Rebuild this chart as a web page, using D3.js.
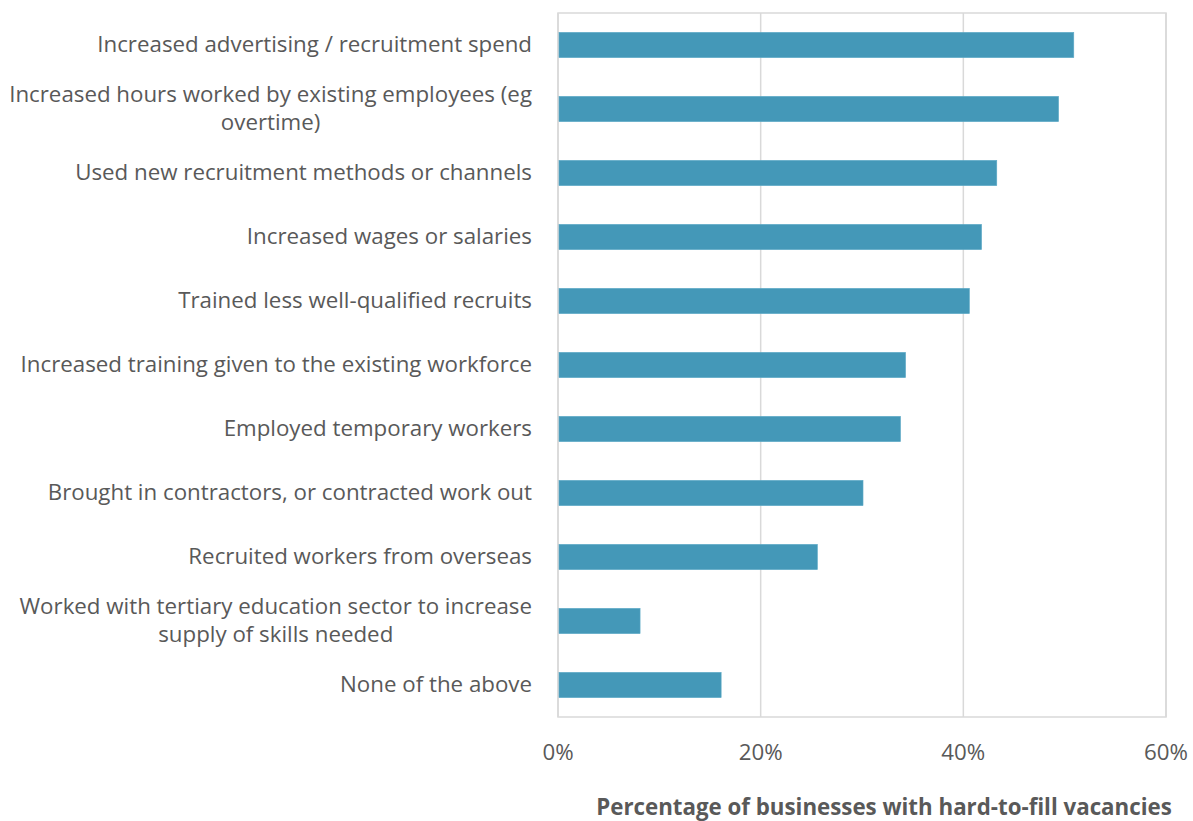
<!DOCTYPE html>
<html>
<head>
<meta charset="utf-8">
<script src="https://cdn.jsdelivr.net/npm/d3@7"></script>
<style>
  html, body { margin: 0; padding: 0; background: #fff; }
  svg { display: block; }
  text { font-family: "Open Sans", "Liberation Sans", sans-serif; }
</style>
</head>
<body>
<svg id="chart" width="1193" height="821"></svg>
<script>
// Responses to hard-to-fill vacancies (share of businesses)
const categories = [
  ["Increased advertising / recruitment spend"],
  ["Increased hours worked by existing employees (eg", "overtime)"],
  ["Used new recruitment methods or channels"],
  ["Increased wages or salaries"],
  ["Trained less well-qualified recruits"],
  ["Increased training given to the existing workforce"],
  ["Employed temporary workers"],
  ["Brought in contractors, or contracted work out"],
  ["Recruited workers from overseas"],
  ["Worked with tertiary education sector to increase", "supply of skills needed"],
  ["None of the above"]
];
const values = [0.509, 0.494, 0.433, 0.418, 0.406, 0.343, 0.338, 0.301, 0.256, 0.081, 0.161];
const xTicks = [0, 0.2, 0.4, 0.6];
const xTitle = "Percentage of businesses with hard-to-fill vacancies";

const svg = d3.select("#chart");
const plotL = 558, plotR = 1166, plotT = 13, plotB = 717;
const fs = 22.3;
const textCol = "#595959";

const x = d3.scaleLinear().domain([0, 0.6]).range([plotL, plotR]);
const y = d3.scaleBand()
  .domain(d3.range(categories.length))
  .range([plotT, plotB])
  .paddingInner(0.605)
  .paddingOuter(0.3025);

const grid = "#d9d9d9";

// vertical gridlines
svg.append("g")
  .selectAll("line")
  .data(xTicks)
  .join("line")
  .attr("x1", d => x(d)).attr("x2", d => x(d))
  .attr("y1", plotT).attr("y2", plotB)
  .attr("stroke", grid).attr("stroke-width", 1.5);

// plot frame
svg.append("rect")
  .attr("x", plotL).attr("y", plotT)
  .attr("width", plotR - plotL).attr("height", plotB - plotT)
  .attr("fill", "none").attr("stroke", grid).attr("stroke-width", 1.5);

// bars
svg.append("g")
  .selectAll("rect")
  .data(values)
  .join("rect")
  .attr("x", x(0) + 1)
  .attr("y", (d, i) => y(i))
  .attr("width", d => x(d) - x(0) - 1)
  .attr("height", y.bandwidth())
  .attr("fill", "#4498b8")
  .attr("stroke", "#5eaac6")
  .attr("stroke-width", 0.6);

// category labels, right-aligned; wrapped second lines centred under the first
const labelX = 532;
const lineH = 28;
const baseOff = 0.36 * fs;
const lab = svg.append("g")
  .selectAll("text")
  .data(categories)
  .join("text")
  .attr("text-anchor", "end")
  .attr("fill", textCol)
  .attr("font-size", fs)
  .attr("x", labelX)
  .attr("y", (d, i) => y(i) + y.bandwidth() / 2 + baseOff - (d.length - 1) * lineH / 2 - 1);
lab.selectAll("tspan")
  .data(d => d)
  .join("tspan")
  .attr("x", labelX)
  .attr("dy", (d, j) => j === 0 ? 0 : lineH)
  .text(d => d);

lab.each(function () {
  const spans = d3.select(this).selectAll("tspan").nodes();
  if (spans.length > 1) {
    const w0 = spans[0].getComputedTextLength();
    const cx = labelX - w0 / 2;
    spans.slice(1).forEach(s => {
      d3.select(s).attr("text-anchor", "middle").attr("x", cx);
    });
  }
});

// x tick labels
svg.append("g")
  .selectAll("text")
  .data(xTicks)
  .join("text")
  .attr("x", d => x(d))
  .attr("y", 760)
  .attr("text-anchor", "middle")
  .attr("fill", textCol)
  .attr("font-size", fs)
  .text(d3.format(".0%"));

// axis title
svg.append("text")
  .attr("x", 884)
  .attr("y", 815)
  .attr("text-anchor", "middle")
  .attr("fill", textCol)
  .attr("font-weight", "bold")
  .attr("font-size", fs)
  .text(xTitle);
</script>
</body>
</html>
